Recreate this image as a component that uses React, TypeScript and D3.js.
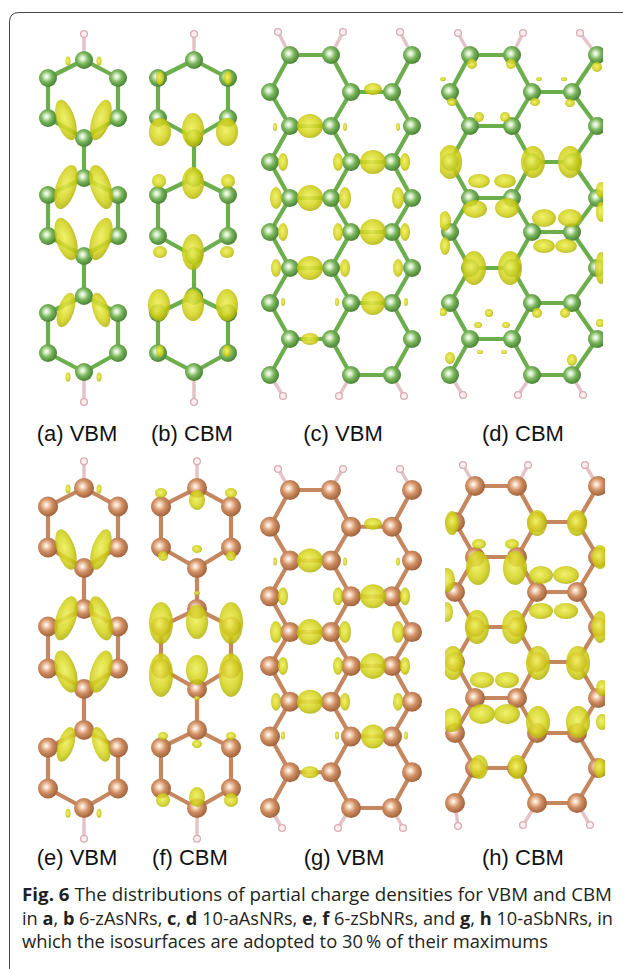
import * as d3 from "d3";

type Pt = [number, number];
type Blob = [number, number, number, number, number];

// zigzag ribbon (a/b) atoms, local coords
const zigAtoms: Pt[] = [
  [84, 60], [48, 78], [118, 78], [48, 118], [118, 118], [84, 138],
  [84, 178], [48, 195], [118, 195], [48, 236], [118, 236], [84, 256],
  [84, 296], [48, 313], [118, 313], [48, 353], [118, 353], [84, 372],
];
const zigH: Pt[] = [[84, 34], [84, 402]];
const zigHLink: Pt[] = [[84, 60], [84, 372]];

// armchair ribbon rows
const armRowsC = [55, 92, 126, 162, 198, 232, 268, 303, 339, 375];
const armAC = [290, 331, 412];
const armBC = [270, 351, 392];
const armAD = [470, 512, 597];
const armBD = [450, 532, 572];
const armRowsH = [486, 522, 557, 592, 627, 662, 698, 733, 768, 803];
const armAH = [475, 517, 598];
const armBH = [455, 537, 577];

const hC: [Pt, Pt][] = [
  [[278, 32], [290, 55]], [[343, 32], [331, 55]], [[400, 32], [412, 55]],
  [[283, 396], [270, 375]], [[339, 396], [351, 375]], [[404, 396], [392, 375]],
];
const hD: [Pt, Pt][] = [
  [[458, 33], [470, 55]], [[523, 33], [512, 55]], [[580, 33], [597, 55]],
  [[463, 395], [450, 375]], [[518, 395], [532, 375]], [[583, 395], [572, 375]],
];
const hG: [Pt, Pt][] = [
  [[278, 469], [290, 490]], [[343, 469], [330, 490]], [[400, 469], [412, 490]],
  [[282, 828], [270, 808]], [[338, 828], [350, 808]], [[403, 828], [392, 808]],
];
const hH: [Pt, Pt][] = [
  [[463, 465], [475, 486]], [[528, 465], [517, 486]], [[585, 465], [598, 486]],
  [[458, 826], [455, 803]], [[523, 825], [537, 803]], [[590, 825], [577, 803]],
];

const blobsA: Blob[] = [
  [68, 61, 2.5, 4.5, 0], [99, 61, 2.5, 4.5, 0],
  [66, 120, 9, 21, -18], [101, 120, 9, 21, 18],
  [66, 187, 10, 23, 18], [101, 187, 10, 23, -18],
  [66, 239, 10, 22, -18], [101, 239, 10, 22, 18],
  [66, 310, 8, 18, 18], [101, 310, 8, 18, -18],
  [68, 377, 2.5, 4.5, 0], [99, 377, 2.5, 4.5, 0],
];
const blobsB: Blob[] = [
  [160, 78, 4, 7, 0], [228, 78, 4, 7, 0],
  [160, 132, 11, 14, 0], [193, 130, 11, 17, 0], [227, 132, 11, 14, 0],
  [159, 181, 7, 7, 0], [193, 183, 11, 16, 0], [228, 181, 7, 7, 0],
  [160, 252, 7, 6, 0], [193, 252, 11, 18, 0], [227, 252, 7, 6, 0],
  [159, 305, 11, 16, 0], [193, 305, 11, 16, 0], [227, 305, 11, 16, 0],
  [160, 351, 4, 6, 0], [227, 351, 4, 6, 0],
];
const blobsC: Blob[] = [
  [373, 89, 9, 6, 0], [310, 339, 9, 6, 0],
  [310, 126, 13, 12, 0], [373, 162, 13, 12, 0], [310, 198, 13, 13, 0],
  [373, 232, 13, 13, 0], [310, 268, 13, 12, 0], [373, 303, 12, 12, 0],
  [275, 127, 2, 4, 0], [345, 127, 2, 4, 0], [398, 127, 2, 4, 0],
  [283, 162, 5, 9, 0], [338, 162, 5, 9, 0], [405, 162, 5, 9, 0],
  [276, 198, 6, 11, 0], [345, 198, 6, 11, 0], [398, 198, 6, 11, 0],
  [283, 232, 5, 9, 0], [338, 232, 5, 9, 0], [405, 232, 5, 9, 0],
  [276, 268, 5, 9, 0], [345, 268, 5, 9, 0], [398, 268, 5, 9, 0],
  [283, 302, 2, 4, 0], [337, 302, 2, 4, 0], [406, 302, 2, 4, 0],
];
const blobsD: Blob[] = [
  [472, 64, 5, 5, 0], [511, 64, 5, 5, 0], [597, 67, 5, 5, 0],
  [443, 79, 3, 2, 0], [539, 79, 3, 2, 0], [564, 79, 3, 2, 0],
  [452, 102, 5, 4, 0], [535, 102, 5, 4, 0], [570, 103, 5, 4, 0],
  [479, 117, 5, 5, 0], [505, 117, 5, 5, 0],
  [450, 162, 12, 17, 0], [533, 162, 12, 16, 0], [570, 162, 12, 16, 0],
  [479, 181, 11, 7, 0], [505, 181, 11, 7, 0], [601, 190, 5, 8, 0],
  [475, 209, 12, 9, 0], [507, 208, 12, 10, 0],
  [445, 221, 6, 10, 0], [601, 212, 5, 10, 0],
  [544, 218, 12, 9, 0], [570, 218, 12, 9, 0],
  [445, 246, 5, 9, 0], [544, 246, 11, 7, 0], [566, 246, 11, 7, 0],
  [474, 268, 12, 17, 0], [510, 268, 12, 17, 0], [601, 268, 6, 16, 0],
  [443, 312, 4, 4, 0], [489, 313, 4, 4, 0], [537, 313, 5, 5, 0], [565, 313, 5, 5, 0],
  [478, 325, 4, 3, 0], [506, 325, 4, 3, 0], [600, 323, 4, 4, 0],
  [450, 358, 5, 6, 0], [572, 360, 5, 6, 0], [480, 352, 3, 2, 0], [504, 352, 3, 2, 0],
];
const blobsF: Blob[] = [
  [161, 493, 6, 5, 0], [231, 493, 6, 5, 0], [197, 500, 8, 10, 0],
  [163, 556, 5, 5, 0], [231, 556, 5, 5, 0], [197, 549, 5, 4, 0],
  [197, 593, 3, 2, 0],
  [161, 623, 12, 21, 0], [197, 622, 11, 17, 0], [231, 623, 12, 21, 0],
  [161, 675, 12, 22, 0], [197, 670, 11, 15, 0], [231, 675, 12, 22, 0],
  [197, 698, 3, 2, 0],
  [163, 736, 5, 4, 0], [231, 736, 5, 4, 0], [197, 744, 5, 4, 0],
  [163, 800, 7, 7, 0], [231, 800, 7, 7, 0], [197, 797, 8, 10, 0],
];
const blobsH: Blob[] = [
  [537, 523, 10, 13, 0], [577, 523, 10, 13, 0], [452, 523, 7, 12, 0],
  [479, 544, 7, 5, 0], [512, 544, 7, 5, 0],
  [478, 568, 12, 17, 0], [515, 568, 12, 17, 0], [600, 557, 8, 12, 0], [447, 580, 8, 12, 0],
  [541, 575, 12, 9, 0], [566, 575, 13, 9, 0],
  [541, 611, 12, 8, 0], [566, 611, 12, 8, 0], [447, 612, 6, 10, 0],
  [477, 627, 12, 17, 0], [514, 627, 12, 17, 0], [600, 627, 8, 16, 0],
  [453, 663, 11, 17, 0], [538, 663, 12, 17, 0], [578, 663, 12, 17, 0],
  [482, 680, 12, 8, 0], [507, 680, 12, 8, 0], [602, 688, 6, 8, 0],
  [482, 714, 13, 10, 0], [507, 714, 13, 10, 0], [452, 720, 10, 12, 0],
  [538, 722, 12, 16, 0], [578, 722, 12, 16, 0], [602, 722, 6, 8, 0],
  [479, 767, 9, 12, 0], [517, 767, 9, 12, 0], [600, 768, 6, 10, 0],
];

const labels = ["(a) VBM", "(b) CBM", "(c) VBM", "(d) CBM", "(e) VBM", "(f) CBM", "(g) VBM", "(h) CBM"];
const labelX = [77, 192, 343, 523, 77, 190, 344, 523];

const armAtoms = (rows: number[], a: number[], b: number[]): Pt[] =>
  rows.flatMap((y, i) => (i % 2 === 0 ? a : b).map((x) => [x, y] as Pt));

const linkBonds = (atoms: Pt[], maxD: number): [Pt, Pt][] => {
  const out: [Pt, Pt][] = [];
  atoms.forEach((p, i) =>
    atoms.slice(i + 1).forEach((q) => {
      if (Math.hypot(p[0] - q[0], p[1] - q[1]) < maxD) out.push([p, q]);
    })
  );
  return out;
};

interface Panel {
  atoms: Pt[];
  hyd: [Pt, Pt][];
  blobs: Blob[];
  x: d3.ScaleLinear<number, number>;
  y: d3.ScaleLinear<number, number>;
  metal: "as" | "sb";
  clip: [number, number];
  r: number;
}

const idX = d3.scaleLinear().domain([0, 1]).range([0, 1]);
const shiftB = d3.scaleLinear().domain([84, 118]).range([194, 228]);
const shiftF = d3.scaleLinear().domain([84, 118]).range([197, 231]);
const zigToE = d3.scaleLinear().domain([60, 372]).range([488, 808]);
const cToG = d3.scaleLinear().domain([55, 375]).range([490, 808]);
const idY = idX;

const zigHPairs: [Pt, Pt][] = zigH.map((h, i) => [h, zigHLink[i]]);

const panels: Panel[] = [
  { atoms: zigAtoms, hyd: zigHPairs, blobs: blobsA, x: idX, y: idY, metal: "as", clip: [20, 140], r: 9 },
  { atoms: zigAtoms, hyd: zigHPairs, blobs: blobsB.map(([x, y, a, b, t]) => [shiftB.invert(x), y, a, b, t] as Blob), x: shiftB, y: idY, metal: "as", clip: [135, 250], r: 9 },
  { atoms: armAtoms(armRowsC, armAC, armBC), hyd: hC, blobs: blobsC, x: idX, y: idY, metal: "as", clip: [258, 425], r: 9 },
  { atoms: armAtoms(armRowsC, armAD, armBD), hyd: hD, blobs: blobsD, x: idX, y: idY, metal: "as", clip: [440, 603], r: 9 },
  { atoms: zigAtoms, hyd: zigHPairs, blobs: blobsA, x: idX, y: zigToE, metal: "sb", clip: [20, 140], r: 10 },
  { atoms: zigAtoms, hyd: zigHPairs, blobs: blobsF.map(([x, y, a, b, t]) => [shiftF.invert(x), zigToE.invert(y), a, b, t] as Blob), x: shiftF, y: zigToE, metal: "sb", clip: [135, 250], r: 10 },
  { atoms: armAtoms(armRowsC, armAC, armBC), hyd: hG.map(([h, a]) => [[h[0], cToG.invert(h[1])], [a[0], cToG.invert(a[1])]] as [Pt, Pt]), blobs: blobsC, x: idX, y: cToG, metal: "sb", clip: [259, 425], r: 10 },
  { atoms: armAtoms(armRowsH, armAH, armBH), hyd: hH, blobs: blobsH, x: idX, y: idY, metal: "sb", clip: [445, 605], r: 10 },
];

const bondColor = { as: "#6cae4c", sb: "#c4875f" };

function PanelView({ p, i }: { p: Panel; i: number }) {
  const bonds = linkBonds(p.atoms, 46);
  const X = (v: number) => p.x(v);
  const Y = (v: number) => p.y(v);
  return (
    <g clipPath={`url(#clip${i})`}>
      <clipPath id={`clip${i}`}>
        <rect x={p.clip[0]} y={0} width={p.clip[1] - p.clip[0]} height={969} />
      </clipPath>
      {p.hyd.map(([h, a], k) => (
        <line key={`hb${k}`} x1={X(h[0])} y1={Y(h[1])} x2={X(a[0])} y2={Y(a[1])} stroke="#e3c3c8" strokeWidth={3.5} />
      ))}
      {bonds.map(([a, b], k) => (
        <line key={`b${k}`} x1={X(a[0])} y1={Y(a[1])} x2={X(b[0])} y2={Y(b[1])} stroke={bondColor[p.metal]} strokeWidth={4.2} />
      ))}
      {p.hyd.map(([h], k) => (
        <circle key={`h${k}`} cx={X(h[0])} cy={Y(h[1])} r={3.4} fill="#fbeef0" stroke="#d9acb3" strokeWidth={1.3} />
      ))}
      {p.atoms.map((a, k) => (
        <circle key={`a${k}`} cx={X(a[0])} cy={Y(a[1])} r={p.r} fill={`url(#atom-${p.metal})`} />
      ))}
      {p.blobs.map(([x, y, rx, ry, t], k) => (
        <ellipse key={`s${k}`} cx={0} cy={0} rx={rx} ry={ry}
          transform={`translate(${X(x)},${Y(y)}) rotate(${t})`}
          fill="url(#iso)" opacity={0.85} />
      ))}
    </g>
  );
}

const captionLines = [
  { parts: [["Fig. 6", true], [" The distributions of partial charge densities for VBM and CBM", false]], len: 590 },
  { parts: [["in ", false], ["a", true], [", ", false], ["b", true], [" 6-zAsNRs, ", false], ["c", true], [", ", false], ["d", true], [" 10-aAsNRs, ", false], ["e", true], [", ", false], ["f", true], [" 6-zSbNRs, and ", false], ["g", true], [", ", false], ["h", true], [" 10-aSbNRs, in", false]], len: 591 },
  { parts: [["which the isosurfaces are adopted to 30\u2009% of their maximums", false]], len: 526 },
] as { parts: [string, boolean][]; len: number }[];

export default function App() {
  return (
    <svg width={623} height={969} style={{ position: "absolute", left: 0, top: 0, background: "#fff" }}>
      <defs>
        <radialGradient id="atom-as" cx="0.42" cy="0.42" r="0.62">
          <stop offset="0" stopColor="#ffffff" />
          <stop offset="0.2" stopColor="#d4ebc4" />
          <stop offset="0.5" stopColor="#7ab65c" />
          <stop offset="1" stopColor="#437c30" />
        </radialGradient>
        <radialGradient id="atom-sb" cx="0.42" cy="0.42" r="0.62">
          <stop offset="0" stopColor="#ffffff" />
          <stop offset="0.2" stopColor="#f3d2b8" />
          <stop offset="0.5" stopColor="#d08f63" />
          <stop offset="1" stopColor="#9c5d36" />
        </radialGradient>
        <radialGradient id="iso" cx="0.45" cy="0.45" r="0.62">
          <stop offset="0" stopColor="#eeee55" />
          <stop offset="0.6" stopColor="#d2d218" />
          <stop offset="1" stopColor="#a6a604" />
        </radialGradient>
      </defs>
      <path d="M9.5,969 V22 Q9.5,12.5 19,12.5 H623" fill="none" stroke="#444" strokeWidth={1} />
      {panels.map((p, i) => <PanelView key={i} p={p} i={i} />)}
      {labels.map((t, i) => (
        <text key={t} x={labelX[i]} y={i < 4 ? 441 : 865} textAnchor="middle"
          fontFamily="Liberation Sans, Arial, sans-serif" fontSize={22} fill="#111">{t}</text>
      ))}
      {captionLines.map((l, i) => (
        <text key={i} x={22} y={901 + i * 23.5} fontFamily="Open Sans, sans-serif" fontSize={18}
          fill="#231f20" textLength={l.len} lengthAdjust="spacingAndGlyphs">
          {l.parts.map(([s, b], k) => (
            <tspan key={k} fontWeight={b ? 700 : 400}>{s}</tspan>
          ))}
        </text>
      ))}
    </svg>
  );
}
